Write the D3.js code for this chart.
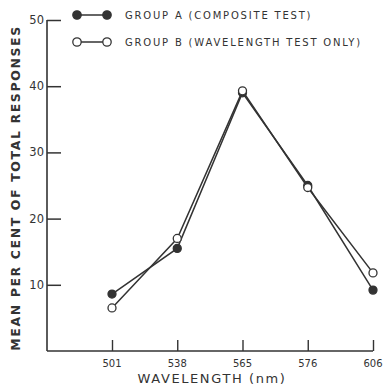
<!DOCTYPE html>
<html><head><meta charset="utf-8">
<script src="https://cdn.jsdelivr.net/npm/d3@7"></script>
<style>body{margin:0;background:#fff}svg{display:block}</style>
</head><body>
<script>
const categories = ["501","538","565","576","606"];
const groupA = [8.6, 15.5, 39.0, 25.0, 9.2];
const groupB = [6.5, 17.0, 39.3, 24.7, 11.8];
const yTicks = [10,20,30,40,50];
const legendLabels = ["GROUP A (COMPOSITE TEST)","GROUP B (WAVELENGTH TEST ONLY)"];

const W=384,H=387, ink="#333";
const svg=d3.select("body").append("svg").attr("width",W).attr("height",H);
const x=d3.scalePoint().domain(categories).range([112,373]);
const y=d3.scaleLinear().domain([0,50]).range([351,20]);
const font="DejaVu Sans";

// axes
svg.append("line").attr("x1",47).attr("x2",47).attr("y1",y(50)).attr("y2",y(0)).attr("stroke",ink).attr("stroke-width",1.6);
svg.append("line").attr("x1",47).attr("x2",373).attr("y1",y(0)).attr("y2",y(0)).attr("stroke",ink).attr("stroke-width",1.6);
const yAxis=d3.axisRight(y).tickValues(yTicks).tickSize(14).tickFormat("");
const gy=svg.append("g").attr("transform","translate(47,0)").call(yAxis);
gy.select(".domain").remove();
gy.selectAll("line").attr("stroke",ink).attr("stroke-width",1.5);
svg.selectAll(".ylab").data(yTicks).join("text").attr("x",44).attr("y",d=>y(d)+4)
  .attr("text-anchor","end").attr("font-family",font).attr("font-size",11.5).attr("fill",ink).text(d=>d);

const xAxis=d3.axisTop(x).tickSize(11).tickFormat("");
const gx=svg.append("g").attr("transform",`translate(0,${y(0)})`).call(xAxis);
gx.select(".domain").remove();
gx.selectAll("line").attr("stroke",ink).attr("stroke-width",1.4);
svg.selectAll(".xlab").data(categories).join("text").attr("x",d=>x(d)).attr("y",367)
  .attr("text-anchor","middle").attr("font-family",font).attr("font-size",10).attr("fill",ink).text(d=>d);

svg.append("text").attr("x",212).attr("y",383).attr("text-anchor","middle").attr("font-family",font)
  .attr("font-size",13).attr("letter-spacing",1.6).attr("fill",ink).text("WAVELENGTH (nm)");
svg.append("text").attr("transform","translate(20,188) rotate(-90)").attr("text-anchor","middle")
  .attr("font-family",font).attr("font-size",12.5).attr("font-weight","bold").attr("letter-spacing",1.6).attr("fill",ink)
  .text("MEAN PER CENT OF TOTAL RESPONSES");

// series
const line=d3.line().x((d,i)=>x(categories[i])).y(d=>y(d));
[groupA,groupB].forEach(data=>{
  svg.append("path").datum(data).attr("d",line).attr("fill","none").attr("stroke",ink).attr("stroke-width",1.5);
});
[[groupA,true],[groupB,false]].forEach(([data,filled])=>{
  svg.selectAll(null).data(data).join("circle").attr("cx",(d,i)=>x(categories[i])).attr("cy",d=>y(d)).attr("r",4)
    .attr("fill",filled?ink:"#fff").attr("stroke",ink).attr("stroke-width",1.3);
});

// legend
legendLabels.forEach((t,i)=>{
  const ly=15+i*27, filled=i===0;
  const g=svg.append("g");
  g.append("line").attr("x1",77).attr("x2",107).attr("y1",ly).attr("y2",ly).attr("stroke",ink).attr("stroke-width",1.5);
  [77,107].forEach(cx=>g.append("circle").attr("cx",cx).attr("cy",ly).attr("r",4.2).attr("fill",filled?ink:"#fff").attr("stroke",ink).attr("stroke-width",1.3));
  g.append("text").attr("x",125).attr("y",ly+4).attr("font-family",font).attr("font-size",10).attr("letter-spacing",1.8).attr("fill",ink).text(t);
});
</script>
</body></html>
